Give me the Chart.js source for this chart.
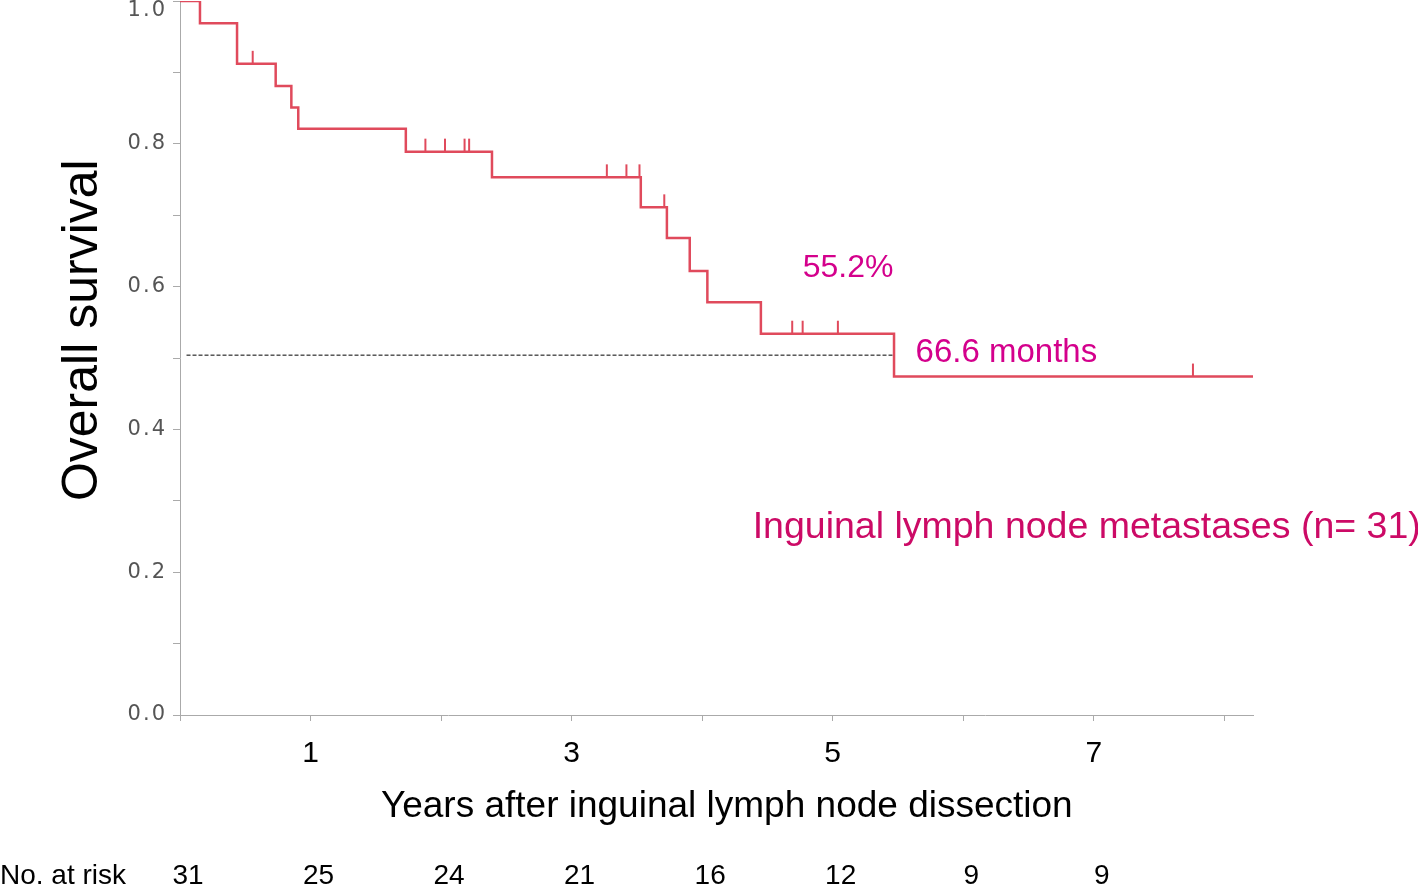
<!DOCTYPE html>
<html>
<head>
<meta charset="utf-8">
<script src="https://cdn.jsdelivr.net/npm/chart.js@4.4.1/dist/chart.umd.min.js"></script>
<style>
  html, body { margin: 0; padding: 0; background: #fff; overflow: hidden; }
  #wrap { width: 1418px; height: 887px; }
</style>
</head>
<body>
<div id="wrap"><canvas id="km" width="1418" height="887"></canvas></div>
<script>
// Kaplan-Meier curve (years, survival after each drop)
var stepTimes = [0, 0.153, 0.437, 0.733, 0.853, 0.906, 1.73, 2.39, 3.53, 3.73, 3.905, 4.04, 4.45, 5.47, 8.22];
var stepSurv  = [1.0, 0.969, 0.912, 0.881, 0.851, 0.821, 0.789, 0.753, 0.711, 0.668, 0.622, 0.578, 0.534, 0.474, 0.474];

// censored patients (tick marks)
var censorTimes = [0.557, 1.88, 2.03, 2.18, 2.215, 3.27, 3.42, 3.52, 3.71, 4.69, 4.77, 5.04, 7.76];
var censorSurv  = [0.912, 0.789, 0.789, 0.789, 0.789, 0.753, 0.753, 0.753, 0.711, 0.534, 0.534, 0.534, 0.474];

// dashed median reference line
var medianX = [0.05, 5.46];
var medianY = [0.504, 0.504];

var yearLabels = [1, 3, 5, 7];
var atRiskYears = [0, 1, 2, 3, 4, 5, 6, 7];
var atRisk = [31, 25, 24, 21, 16, 12, 9, 9];

var curveColor = '#e04a5c';
var noteColor = '#d4008c';
var groupColor = '#cc0a66';
var fontFamily = '"Liberation Sans", Arial, sans-serif';

function toPoints(xs, ys) {
    return xs.map(function (x, i) { return { x: x, y: ys[i] }; });
}

var overlayPlugin = {
    id: 'kmOverlay',
    afterDraw: function (chart) {
        var ctx = chart.ctx;
        var xs = chart.scales.x;
        var ys = chart.scales.y;
        ctx.save();

        // y tick labels, every 0.2
        ctx.font = '21px "DejaVu Sans"';
        ctx.fillStyle = '#555';
        ctx.textAlign = 'right';
        ctx.textBaseline = 'middle';
        ctx.letterSpacing = '2px';
        ys.ticks.forEach(function (t) {
            var tenth = Math.round(t.value * 10);
            if (tenth % 2 !== 0) return;
            var py = Math.max(ys.getPixelForValue(t.value), 11);
            ctx.fillText((tenth / 10).toFixed(1), ys.right - 13, py);
        });
        ctx.letterSpacing = '0px';

        // number at risk row
        ctx.font = '28px ' + fontFamily;
        ctx.fillStyle = '#000';
        ctx.textAlign = 'left';
        ctx.fillText('No. at risk', 0, 876);
        ctx.textAlign = 'center';
        atRiskYears.forEach(function (yr, i) {
            ctx.fillText(String(atRisk[i]), xs.getPixelForValue(yr) + 8, 876);
        });

        // annotations
        ctx.textAlign = 'left';
        ctx.fillStyle = noteColor;
        ctx.font = '32px ' + fontFamily;
        ctx.fillText('55.2%', xs.getPixelForValue(4.77), ys.getPixelForValue(0.626));
        ctx.font = '33px ' + fontFamily;
        ctx.fillText('66.6 months', xs.getPixelForValue(5.635), ys.getPixelForValue(0.507));
        ctx.fillStyle = groupColor;
        ctx.font = '37.5px ' + fontFamily;
        ctx.fillText('Inguinal lymph node metastases (n= 31)', xs.getPixelForValue(4.387), ys.getPixelForValue(0.262));

        ctx.restore();
    }
};

var chart = new Chart(document.getElementById('km').getContext('2d'), {
    type: 'scatter',
    data: {
        datasets: [{
            data: toPoints(stepTimes, stepSurv),
            showLine: true,
            stepped: true,
            borderColor: curveColor,
            borderWidth: 2.5,
            pointRadius: 0
        }, {
            data: toPoints(censorTimes, censorSurv),
            showLine: false,
            pointStyle: 'dash',
            pointRotation: -90,
            pointRadius: 13,
            pointHoverRadius: 13,
            pointBorderColor: curveColor,
            pointBorderWidth: 2
        }, {
            data: toPoints(medianX, medianY),
            showLine: true,
            borderColor: '#000',
            borderWidth: 1,
            borderDash: [4, 2],
            pointRadius: 0
        }]
    },
    options: {
        responsive: false,
        animation: false,
        devicePixelRatio: 1,
        events: [],
        layout: { autoPadding: false, padding: { left: 0, right: 165, top: 1, bottom: 0 } },
        plugins: {
            legend: { display: false },
            tooltip: { enabled: false }
        },
        scales: {
            x: {
                type: 'linear',
                min: 0,
                max: 8.22,
                afterFit: function (s) { s.height = 172; },
                border: { color: '#aaa', width: 1 },
                grid: { drawOnChartArea: false, drawTicks: true, tickLength: 6, color: '#aaa' },
                ticks: {
                    stepSize: 1,
                    includeBounds: false,
                    autoSkip: false,
                    maxRotation: 0,
                    padding: 15,
                    color: '#000',
                    font: { family: fontFamily, size: 30 },
                    callback: function (v) { return yearLabels.indexOf(v) >= 0 ? String(v) : ''; }
                },
                title: {
                    display: true,
                    text: '  Years after inguinal lymph node dissection',
                    color: '#000',
                    font: { family: fontFamily, size: 37 },
                    padding: { top: 0, bottom: 58 }
                }
            },
            y: {
                min: 0,
                max: 1,
                afterFit: function (s) { s.width = 180; },
                border: { color: '#aaa', width: 1 },
                grid: { drawOnChartArea: false, drawTicks: true, tickLength: 7, color: '#aaa' },
                ticks: { stepSize: 0.1, display: false },
                title: {
                    display: true,
                    text: '    Overall survival',
                    color: '#000',
                    font: { family: fontFamily, size: 50 },
                    padding: { top: 53, bottom: 0 }
                }
            }
        }
    },
    plugins: [overlayPlugin]
});
</script>
</body>
</html>
